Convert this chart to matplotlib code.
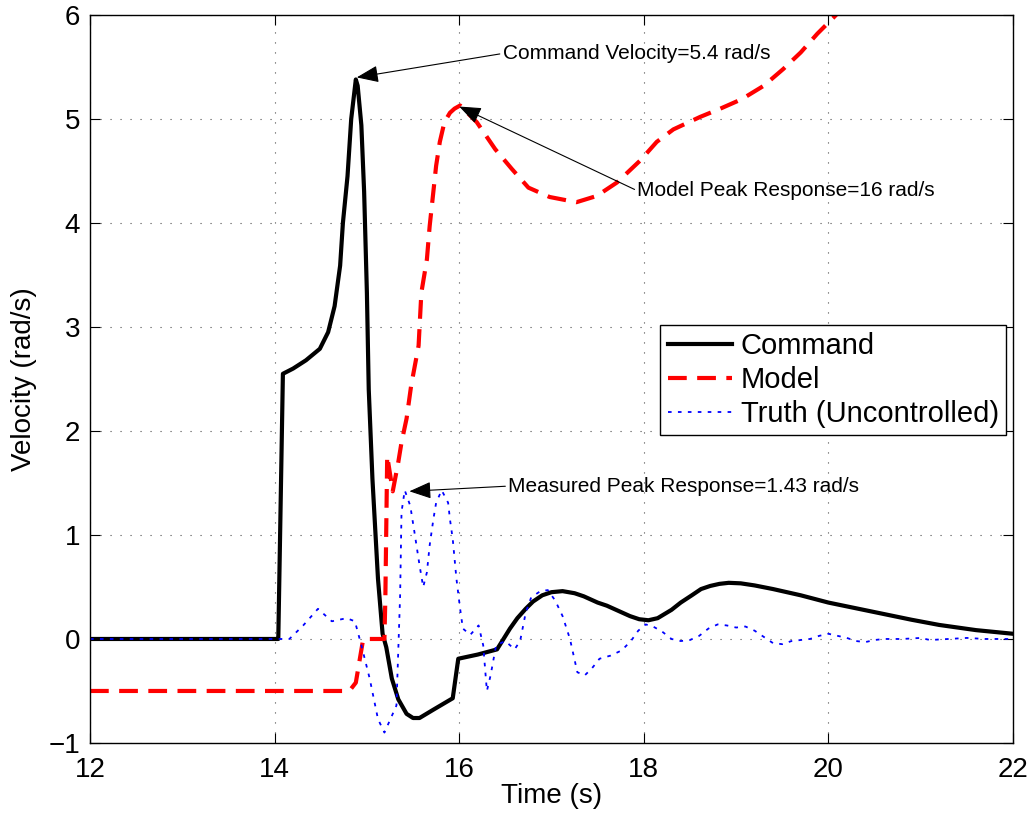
import matplotlib
matplotlib.use("Agg")
import matplotlib.pyplot as plt

plt.rcParams['font.family'] = ['Liberation Sans', 'DejaVu Sans']

# Command velocity (black)
t_cmd = [12.0, 14.03, 14.04, 14.09, 14.2, 14.34, 14.49, 14.58, 14.65, 14.71, 14.74, 14.79,
         14.83, 14.88, 14.9, 14.94, 14.97, 15.0, 15.02, 15.06, 15.12, 15.17, 15.21, 15.27,
         15.34, 15.43, 15.5, 15.57, 15.72, 15.93, 15.99, 16.2, 16.41, 16.48, 16.55, 16.63,
         16.72, 16.8, 16.9, 17.0, 17.12, 17.25, 17.35, 17.5, 17.6, 17.75, 17.85, 17.95,
         18.05, 18.15, 18.3, 18.4, 18.52, 18.62, 18.72, 18.82, 18.92, 19.05, 19.2, 19.4,
         19.7, 20.0, 20.3, 20.6, 20.9, 21.2, 21.6, 22.0]
v_cmd = [0.0, 0.0, 0.0, 2.55, 2.6, 2.68, 2.79, 2.95, 3.2, 3.59, 4.0, 4.45,
         5.0, 5.38, 5.32, 4.94, 4.3, 3.33, 2.4, 1.54, 0.58, 0.05, -0.08, -0.38,
         -0.58, -0.72, -0.76, -0.76, -0.68, -0.57, -0.19, -0.15, -0.1, 0.0, 0.1, 0.2,
         0.29, 0.36, 0.42, 0.45, 0.46, 0.44, 0.41, 0.35, 0.32, 0.26, 0.22, 0.19,
         0.18, 0.2, 0.28, 0.35, 0.42, 0.48, 0.51, 0.53, 0.54, 0.535, 0.515, 0.48,
         0.42, 0.35, 0.295, 0.24, 0.185, 0.135, 0.085, 0.05]

# Model response (red dashed)
t_mod = [12.0, 14.81, 14.88, 14.96, 15.19, 15.2, 15.22, 15.28, 15.34, 15.375, 15.43,
         15.48, 15.56, 15.59, 15.65, 15.68, 15.72, 15.75, 15.79, 15.84, 15.9, 15.95,
         16.01, 16.19, 16.39, 16.57, 16.75, 16.98, 17.27, 17.49, 17.71, 17.96, 18.14,
         18.32, 18.61, 18.83, 19.06, 19.3, 19.51, 19.7, 19.88, 20.06, 20.3]
v_mod = [-0.5, -0.5, -0.42, 0.0, 0.0, 0.4, 1.76, 1.42, 1.7, 1.89, 2.12,
         2.44, 2.82, 3.33, 3.65, 3.97, 4.3, 4.55, 4.78, 4.97, 5.06, 5.1,
         5.13, 4.97, 4.71, 4.52, 4.34, 4.25, 4.2, 4.26, 4.39, 4.6, 4.78,
         4.9, 5.02, 5.1, 5.19, 5.32, 5.48, 5.64, 5.82, 5.98, 6.2]

# Measured truth, uncontrolled (blue dotted)
t_tru = [12.0, 14.16, 14.31, 14.47, 14.62, 14.78, 14.87, 14.94, 15.03, 15.12, 15.19,
         15.32, 15.36, 15.375, 15.41, 15.47, 15.52, 15.57, 15.61, 15.65, 15.68, 15.72,
         15.75, 15.81, 15.88, 15.9, 15.93, 15.97, 16.01, 16.04, 16.12, 16.21, 16.26,
         16.3, 16.34, 16.4, 16.5, 16.6, 16.66, 16.72, 16.78, 16.88, 16.96, 17.04, 17.12,
         17.2, 17.28, 17.36, 17.44, 17.52, 17.64, 17.76, 17.86, 17.94, 18.02, 18.1, 18.2,
         18.3, 18.4, 18.5, 18.6, 18.7, 18.8, 18.9, 19.0, 19.1, 19.2, 19.3, 19.4, 19.5,
         19.6, 19.7, 19.8, 19.9, 20.0, 20.1, 20.2, 20.3, 20.4, 20.5, 20.6, 20.8, 21.0,
         21.1, 21.3, 21.5, 21.7, 22.0]
v_tru = [0.0, 0.0, 0.13, 0.29, 0.17, 0.2, 0.17, -0.06, -0.38, -0.77, -0.9,
         -0.64, 0.42, 1.22, 1.43, 1.28, 1.0, 0.71, 0.5, 0.64, 0.9, 1.15,
         1.31, 1.43, 1.31, 1.15, 0.96, 0.58, 0.29, 0.1, 0.04, 0.13, -0.06,
         -0.5, -0.35, -0.06, -0.02, -0.1, -0.02, 0.25, 0.4, 0.46, 0.47, 0.37, 0.22,
         0.0, -0.32, -0.35, -0.28, -0.19, -0.16, -0.11, -0.02, 0.08, 0.14, 0.12, 0.07,
         0.0, -0.02, -0.01, 0.03, 0.1, 0.14, 0.13, 0.11, 0.12, 0.08, 0.02, -0.04, -0.05,
         -0.02, -0.01, 0.0, 0.03, 0.05, 0.03, 0.01, -0.02, -0.03, -0.01, 0.0, 0.0, 0.01,
         -0.01, 0.0, 0.01, 0.0, 0.0]

fig = plt.figure(figsize=(10.32, 8.16), dpi=100)
ax = fig.add_axes([0.0872, 0.0895, 0.8944, 0.8921])

ax.plot(t_cmd, v_cmd, color='k', lw=3, label='Command')
ax.plot(t_mod, v_mod, color='r', lw=3, linestyle=(0, (4.5, 2.5)), label='Model')
ax.plot(t_tru, v_tru, color='b', lw=1.3, linestyle=(0, (2, 3.5)), label='Truth (Uncontrolled)')

ax.set_xlim(12, 22)
ax.set_ylim(-1, 6)
ax.set_xticks([12, 14, 16, 18, 20, 22])
ax.set_yticks([-1, 0, 1, 2, 3, 4, 5, 6])
ax.tick_params(direction='in', top=True, right=True, length=7, width=0.8, labelsize=20)
ax.tick_params(axis='x', pad=10)
ax.tick_params(axis='y', pad=7)
ax.grid(True, color='0.3', linestyle=(0, (1, 8)), lw=0.8)
for s in ax.spines.values():
    s.set_linewidth(1.0)

ax.set_xlabel('Time (s)', fontsize=20, labelpad=0)
ax.set_ylabel('Velocity (rad/s)', fontsize=20, labelpad=8)

arrow = dict(arrowstyle='-|>,head_length=0.9,head_width=0.35', color='k', lw=0.8,
             shrinkA=0, shrinkB=0, relpos=(0, 0.5))
ax.annotate('Command Velocity=5.4 rad/s', xy=(14.89, 5.40), xytext=(16.47, 5.63),
            fontsize=15, ha='left', va='center', arrowprops=arrow)
ax.annotate('Model Peak Response=16 rad/s', xy=(16.0, 5.12), xytext=(17.93, 4.31),
            fontsize=15, ha='left', va='center', arrowprops=arrow)
ax.annotate('Measured Peak Response=1.43 rad/s', xy=(15.46, 1.42), xytext=(16.53, 1.47),
            fontsize=15, ha='left', va='center', arrowprops=arrow)

leg = ax.legend(loc='upper left', bbox_to_anchor=(0.618, 0.574), borderaxespad=0,
                fontsize=21, fancybox=False, framealpha=1, edgecolor='k',
                handlelength=2.2, labelspacing=0.2, borderpad=0.25, handletextpad=0.3)
leg.get_frame().set_linewidth(1.0)

fig.savefig('out.png', dpi=100)
